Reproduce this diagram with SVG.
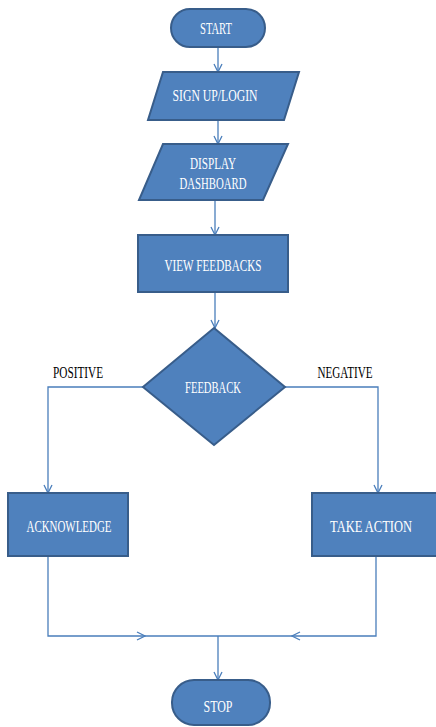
<svg xmlns="http://www.w3.org/2000/svg" width="436" height="727" viewBox="0 0 436 727">
<style>
.shape{fill:#4F81BD;stroke:#385D8A;stroke-width:2}
.lbl{font-family:"Liberation Serif","Times New Roman",serif;font-size:16px;fill:#FFFFFF;text-anchor:middle}
.side{font-family:"Liberation Serif","Times New Roman",serif;font-size:16px;fill:#000000;text-anchor:middle}
.conn{fill:none;stroke:#4A7EBB;stroke-width:1.3}
</style>
<defs>
<marker id="arr" viewBox="0 0 10 10" refX="9" refY="5" markerWidth="10" markerHeight="10" markerUnits="userSpaceOnUse" orient="auto">
<polyline points="1,1 9,5 1,9" fill="none" stroke="#4A7EBB" stroke-width="1.3"/>
</marker>
</defs>
<g id="connectors">
<line class="conn" x1="218" y1="47" x2="218" y2="72" marker-end="url(#arr)"/>
<line class="conn" x1="218" y1="120" x2="218" y2="144" marker-end="url(#arr)"/>
<line class="conn" x1="215" y1="200" x2="215" y2="235" marker-end="url(#arr)"/>
<line class="conn" x1="215" y1="292" x2="215" y2="328" marker-end="url(#arr)"/>
<polyline class="conn" points="143,387 48,387 48,493" marker-end="url(#arr)"/>
<polyline class="conn" points="285,387 378,387 378,493" marker-end="url(#arr)"/>
<polyline class="conn" points="48,556 48,636 145,636" marker-end="url(#arr)"/>
<line class="conn" x1="145" y1="636" x2="218" y2="636"/>
<polyline class="conn" points="376,556 376,636 292,636" marker-end="url(#arr)"/>
<line class="conn" x1="292" y1="636" x2="218" y2="636"/>
<line class="conn" x1="218" y1="636" x2="218" y2="680" marker-end="url(#arr)"/>
</g>
<g id="start">
<rect class="shape" x="171" y="9" width="94" height="38" rx="19"/>
<text class="lbl" x="216" y="34" textLength="32" lengthAdjust="spacingAndGlyphs">START</text>
</g>
<g id="signup">
<polygon class="shape" points="163,72 299,72 284,120 148,120"/>
<text class="lbl" x="215" y="101" textLength="85" lengthAdjust="spacingAndGlyphs">SIGN UP/LOGIN</text>
</g>
<g id="dashboard">
<polygon class="shape" points="163,144 288,144 263,200 139,200"/>
<text class="lbl" x="213" y="169" textLength="46" lengthAdjust="spacingAndGlyphs">DISPLAY</text>
<text class="lbl" x="213" y="189" textLength="67" lengthAdjust="spacingAndGlyphs">DASHBOARD</text>
</g>
<g id="view">
<rect class="shape" x="138" y="235" width="150" height="57"/>
<text class="lbl" x="213" y="271" textLength="97" lengthAdjust="spacingAndGlyphs">VIEW FEEDBACKS</text>
</g>
<g id="feedback">
<polygon class="shape" points="214,328 285,387 214,445 143,387"/>
<text class="lbl" x="213" y="393" textLength="56" lengthAdjust="spacingAndGlyphs">FEEDBACK</text>
</g>
<g id="labels">
<text class="side" x="78" y="378" textLength="50" lengthAdjust="spacingAndGlyphs">POSITIVE</text>
<text class="side" x="345" y="378" textLength="55" lengthAdjust="spacingAndGlyphs">NEGATIVE</text>
</g>
<g id="acknowledge">
<rect class="shape" x="8" y="493" width="120" height="63"/>
<text class="lbl" x="69" y="532" textLength="85" lengthAdjust="spacingAndGlyphs">ACKNOWLEDGE</text>
</g>
<g id="takeaction">
<rect class="shape" x="312" y="493" width="126" height="63"/>
<text class="lbl" x="371" y="532" textLength="82" lengthAdjust="spacingAndGlyphs">TAKE ACTION</text>
</g>
<g id="stop">
<rect class="shape" x="172" y="680" width="98" height="45" rx="22"/>
<text class="lbl" x="218" y="712" textLength="29" lengthAdjust="spacingAndGlyphs">STOP</text>
</g>
</svg>
